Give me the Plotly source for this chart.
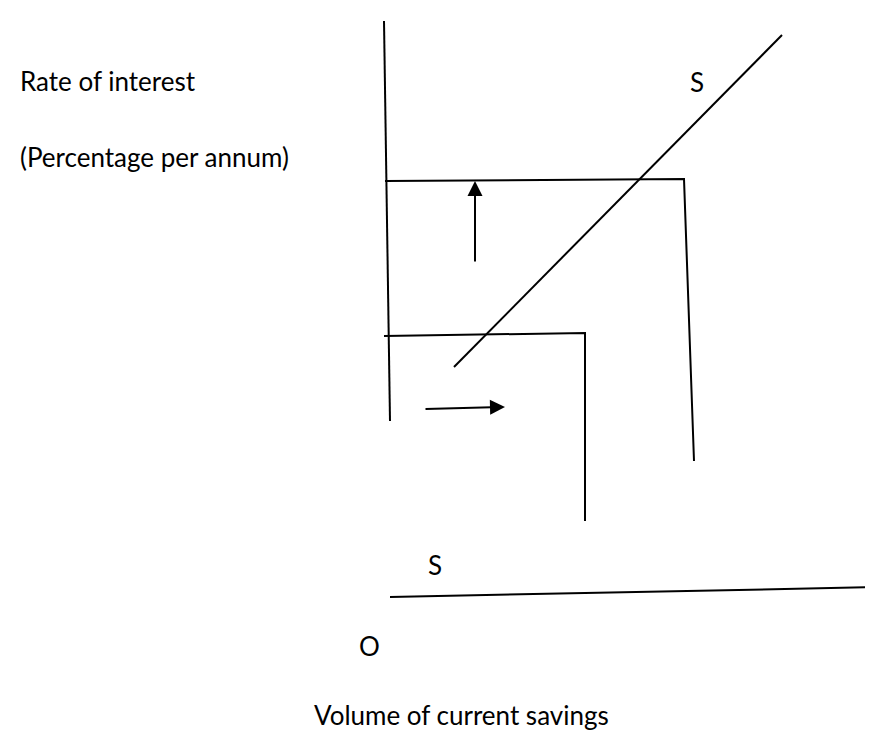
import plotly.graph_objects as go

# diagram units follow the picture: x to the right, y downwards
axis_v_x = [376, 382]
axis_v_y = [13, 413]
axis_h_x = [382, 873]
axis_h_y = [589, 579]

supply_x = [446, 774]
supply_y = [359, 27]

high_rate_x = [377, 676, 686]
high_rate_y = [173, 171, 453]

low_rate_x = [376, 577, 577]
low_rate_y = [328, 325, 513]

# arrows: (tail, head)
up_arrow = dict(x0=467, y0=255, x1=467, y1=173)
right_arrow = dict(x0=416, y0=401, x1=497, y1=399)

labels = [
    ("Rate of interest", 11, 73, "left"),
    ("(Percentage per annum)", 11, 149, "left"),
    ("S", 689, 74, "center"),
    ("S", 427, 557, "center"),
    ("O", 361, 638, "center"),
    ("Volume of current savings", 453, 707, "center"),
]

W, H = 873, 731
FONT = "Lato"

fig = go.Figure()

line_style = dict(color="black", width=2)
for xs, ys in [
    (axis_v_x, axis_v_y),
    (axis_h_x, axis_h_y),
    (supply_x, supply_y),
    (high_rate_x, high_rate_y),
    (low_rate_x, low_rate_y),
]:
    fig.add_trace(go.Scatter(x=xs, y=ys, mode="lines", line=line_style,
                             hoverinfo="skip", showlegend=False))

for a in (up_arrow, right_arrow):
    fig.add_annotation(
        x=a["x1"], y=a["y1"], ax=a["x0"], ay=a["y0"],
        xref="x", yref="y", axref="x", ayref="y",
        text="", showarrow=True,
        arrowhead=2, arrowsize=1.5, arrowwidth=2, arrowcolor="black",
        standoff=0,
    )

for text, x, y, anchor in labels:
    fig.add_annotation(
        x=x, y=y, xref="x", yref="y", text=text, showarrow=False,
        xanchor=anchor, yanchor="middle", borderpad=0,
        font=dict(family=FONT, size=26, color="black"),
    )

fig.update_xaxes(range=[0, W], visible=False)
fig.update_yaxes(range=[H, 0], visible=False)
fig.update_layout(
    width=W, height=H,
    margin=dict(l=0, r=0, t=0, b=0),
    paper_bgcolor="white", plot_bgcolor="white",
)

fig.write_html("out.html")
